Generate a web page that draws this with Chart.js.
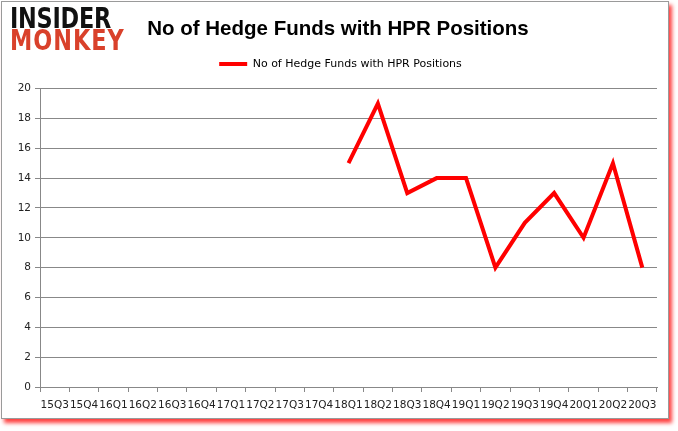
<!DOCTYPE html>
<html>
<head>
<meta charset="utf-8">
<script src="https://cdn.jsdelivr.net/npm/chart.js@4/dist/chart.umd.min.js"></script>
<style>
  body { margin: 0; background: #fff; }
  .frame {
    position: absolute; left: 1px; top: 1px;
    width: 666px; height: 416px;
    border: 1px solid #9a9a9a;
    box-shadow: 3px 4px 4px rgba(255, 0, 0, 0.75);
    background: #fff;
  }
  .logo {
    position: absolute; left: 8px; top: 6px;
    font-family: "DejaVu Sans", sans-serif; font-weight: bold;
    font-size: 28px; line-height: 22px; letter-spacing: -0.3px;
    transform: scaleX(0.8); transform-origin: left top;
  }
  .logo .a { color: #111; }
  .logo .b { color: #d9412b; letter-spacing: 1.2px; }
</style>
</head>
<body>
<div class="frame">
  <canvas id="chart" width="666" height="416"></canvas>
  <div class="logo"><div class="a">INSIDER</div><div class="b">MONKEY</div></div>
</div>
<script>
// quarters on the x axis
const quarters = ['15Q3', '15Q4', '16Q1', '16Q2', '16Q3', '16Q4', '17Q1', '17Q2', '17Q3', '17Q4',
  '18Q1', '18Q2', '18Q3', '18Q4', '19Q1', '19Q2', '19Q3', '19Q4', '20Q1', '20Q2', '20Q3'];
// hedge fund counts (no data before 18Q1)
const hedgeFunds = [null, null, null, null, null, null, null, null, null, null,
  15, 19, 13, 14, 14, 8, 11, 13, 10, 15, 8];
const seriesName = 'No of Hedge Funds with HPR Positions';

const tickFont = { family: 'DejaVu Sans', size: 10.5 };

// nudge title / legend boxes so they sit like the original
const boxNudge = {
  id: 'boxNudge',
  afterInit: (chart) => {
    const legend = chart.legend;
    const fit = legend.fit.bind(legend);
    legend.fit = () => { fit(); legend.height += 9; };
  },
  afterLayout: (chart) => {
    chart.titleBlock.right += 17;
    chart.legend.right += 22;
  },
};

const hpr = new Chart(document.getElementById('chart'), {
  type: 'line',
  data: {
    labels: quarters,
    datasets: [{
      label: seriesName,
      data: hedgeFunds,
      borderColor: '#ff0000',
      backgroundColor: '#ff0000',
      borderWidth: 4,
      pointRadius: 0,
      tension: 0,
    }]
  },
  plugins: [boxNudge],
  options: {
    responsive: false,
    animation: false,
    layout: { padding: { left: 0, right: 11, top: 0, bottom: 0 } },
    plugins: {
      title: {
        display: true,
        text: seriesName,
        color: '#000',
        font: { family: 'Liberation Sans', size: 20.5, weight: 'bold' },
        padding: { top: 15, bottom: 7 },
      },
      legend: {
        display: true,
        labels: {
          usePointStyle: true,
          pointStyle: 'line',
          pointStyleWidth: 28,
          color: '#000',
          font: { family: 'DejaVu Sans', size: 11 },
          padding: 10,
        },
      },
      tooltip: { enabled: false },
    },
    scales: {
      x: {
        offset: true,
        grid: { offset: true, drawOnChartArea: false, drawTicks: true, tickLength: 5, color: '#888' },
        border: { color: '#888' },
        ticks: { autoSkip: false, maxRotation: 0, color: '#222', font: tickFont, padding: 7 },
        afterFit: (scale) => { scale.height = 31; },
      },
      y: {
        min: 0,
        max: 20,
        grid: { color: '#888', tickLength: 5 },
        border: { color: '#888' },
        ticks: { stepSize: 2, color: '#222', font: tickFont, padding: 4 },
        afterFit: (scale) => { scale.width = 38; },
      },
    },
  },
});
</script>
</body>
</html>
